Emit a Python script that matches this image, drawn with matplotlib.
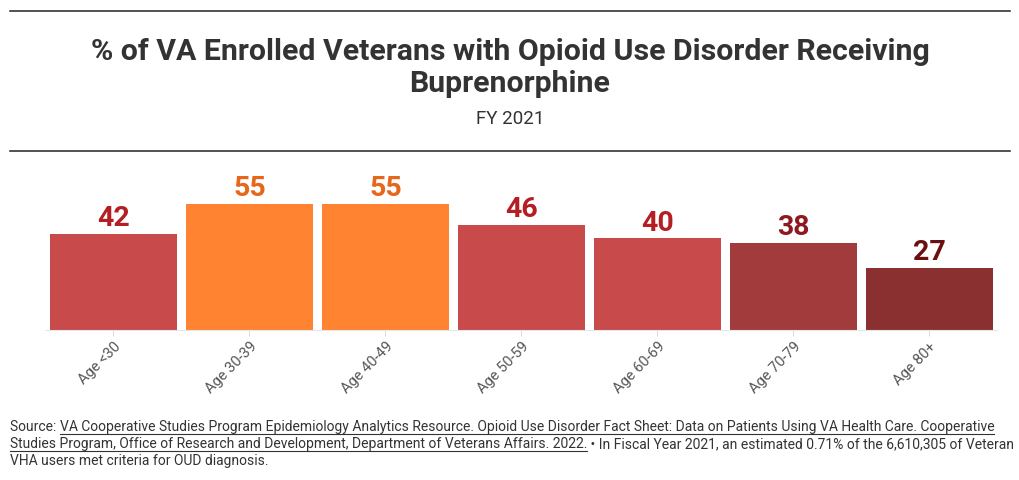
import matplotlib.pyplot as plt
from matplotlib.lines import Line2D

# data
categories = ["Age <30", "Age 30-39", "Age 40-49", "Age 50-59", "Age 60-69", "Age 70-79", "Age 80+"]
values = [42, 55, 55, 46, 40, 38, 27]
bar_colors = ["#C94A4B", "#FF8330", "#FF8330", "#C94A4B", "#C94A4B", "#A23C3C", "#8A3030"]
label_colors = ["#B41F24", "#E8661A", "#E8661A", "#B41F24", "#B41F24", "#8E1A1F", "#6B0F0F"]

title = "% of VA Enrolled Veterans with Opioid Use Disorder Receiving\nBuprenorphine"
subtitle = "FY 2021"

plt.rcParams['font.family'] = ['Roboto', 'DejaVu Sans']

W, H = 1020, 480
fig = plt.figure(figsize=(W / 100, H / 100), dpi=100)

def fy(y):  # pixel from top -> figure fraction
    return 1 - y / H

# horizontal rules
for y in (11, 151):
    fig.add_artist(Line2D([10 / W, 1010 / W], [fy(y), fy(y)], color="#222222", lw=1.1))

fig.text(0.5, fy(68), title, ha="center", va="center", fontsize=21.8, fontweight="bold",
         color="#333333", linespacing=1.2)
fig.text(0.5, fy(119), subtitle, ha="center", va="center", fontsize=13.5, color="#333333")

# axes
ymax = 60
px_per_unit = 126 / 55
ax_h = ymax * px_per_unit
ax = fig.add_axes([45.5 / W, 150 / H, 952 / W, ax_h / H])
x = range(len(categories))
ax.bar(x, values, width=0.933, color=bar_colors)
ax.set_xlim(-0.5, len(categories) - 0.5)
ax.set_ylim(0, ymax)
for i, v in enumerate(values):
    ax.text(i, v + 0.8, str(v), ha="center", va="bottom", fontsize=20.5, fontweight="bold",
            color=label_colors[i], clip_on=False)

ax.set_xticks(list(x))
ax.set_xticklabels(categories, rotation=45, ha="right", rotation_mode="anchor",
                   fontsize=10.5, color="#555555")
ax.tick_params(axis="x", length=4, color="#dddddd", pad=3)
ax.set_yticks([])
for s in ("top", "right", "left"):
    ax.spines[s].set_visible(False)
ax.spines["bottom"].set_color("#e6e6e6")

# footer with underlined link text
foot_size = 10
foot_color = "#333333"
lines = [
    [("Source: ", False),
     ("VA Cooperative Studies Program Epidemiology Analytics Resource. Opioid Use Disorder Fact Sheet: Data on Patients Using VA Health Care. Cooperative", True)],
    [("Studies Program, Office of Research and Development, Department of Veterans Affairs. 2022.", True),
     (" \u2022 In Fiscal Year 2021, an estimated 0.71% of the 6,610,305 of Veteran", False)],
    [("VHA users met criteria for OUD diagnosis.", False)],
]
fig.canvas.draw()
renderer = fig.canvas.get_renderer()
for li, parts in enumerate(lines):
    ypix = 427 + li * 17
    xpix = 10
    for txt, link in parts:
        t = fig.text(xpix / W, fy(ypix), txt, ha="left", va="center", fontsize=foot_size,
                     color=foot_color)
        bb = t.get_window_extent(renderer)
        if link:
            uy = fy(ypix + 6.5)
            fig.add_artist(Line2D([xpix / W, (xpix + bb.width) / W], [uy, uy],
                                  color=foot_color, lw=0.8))
        xpix += bb.width

fig.savefig("out.png", dpi=100)
